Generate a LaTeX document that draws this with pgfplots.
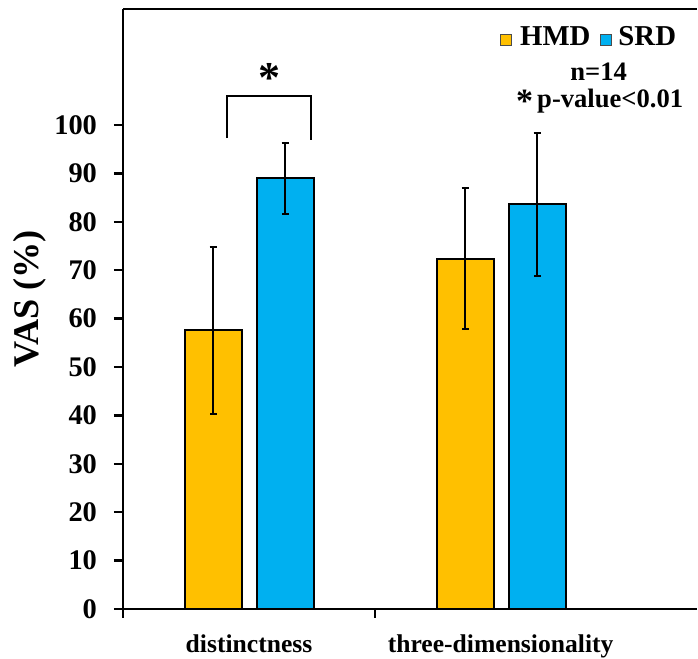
\documentclass[border=0pt]{standalone}
\usepackage{pgfplots}
\pgfplotsset{compat=1.18}
\usepackage{fontspec}
\setmainfont{Liberation Serif}
\definecolor{hmd}{HTML}{FFC000}
\definecolor{srd}{HTML}{00B0F0}
\newcommand{\sq}[1]{{\setlength{\fboxsep}{0pt}\setlength{\fboxrule}{0.5pt}\fcolorbox{black!70}{#1}{\rule{0pt}{5pt}\rule{5pt}{0pt}}}}
\begin{document}
\begin{tikzpicture}
\begin{axis}[
  at={(0,0)}, anchor=south west,
  scale only axis, width=287pt, height=300pt,
  xmin=-0.5, xmax=1.777, ymin=0, ymax=124,
  axis x line*=box, axis y line*=left,
  axis line style={line width=1.2pt, black, -},
  xtick={-0.5,0.5}, xticklabels={},
  ytick={0,10,...,100},
  xtick pos=bottom, ytick pos=left,
  tick align=outside, major tick length=4.5pt,
  tick style={line width=1.2pt, black},
  /pgf/number format/assume math mode=true,
  yticklabel style={font=\bfseries\fontsize{14.2}{14.2}\selectfont, xshift=-5pt},
  ylabel={VAS (\%)},
  ylabel style={font=\bfseries\fontsize{18.1}{18.1}\selectfont, at={(axis description cs:-0.162,0.5175)}, anchor=center},
  ybar, bar width=28.5pt, clip=false,
]
\addplot[fill=hmd, draw=black, line width=1pt, bar shift=-18pt,
  error bars/.cd, y dir=both, y explicit,
  error bar style={line width=1pt, black},
  error mark options={rotate=90, mark size=1.75pt, line width=1pt, black}]
  coordinates {(0,57.6) +- (0,17.2) (1,72.4) +- (0,14.6)};
\addplot[fill=srd, draw=black, line width=1pt, bar shift=18pt,
  error bars/.cd, y dir=both, y explicit,
  error bar style={line width=1pt, black},
  error mark options={rotate=90, mark size=1.75pt, line width=1pt, black}]
  coordinates {(0,89.0) +- (0,7.3) (1,83.6) +- (0,14.7)};
% significance bracket
\draw[line width=1pt] (axis cs:-0.086,97.3) -- (axis cs:-0.086,106) -- (axis cs:0.244,106) -- (axis cs:0.244,96.9);
\node[font=\bfseries\fontsize{22}{22}\selectfont] at (axis cs:0.081,109.8) {*};
% legend and notes
\node[font=\bfseries\fontsize{14.4}{14.4}\selectfont, inner sep=0pt, anchor=base] at (axis cs:1.345,116.5) {\sq{hmd}\hspace{4pt}HMD\hspace{5pt}\sq{srd}\hspace{3pt}SRD};
\node[font=\bfseries\fontsize{13.3}{13.3}\selectfont, inner sep=0pt, anchor=base] at (axis cs:1.387,109.2) {n=14};
\node[font=\bfseries\fontsize{13.3}{13.3}\selectfont, inner sep=0pt, anchor=base] at (axis cs:1.391,103.6) {\raisebox{-2.5pt}{\fontsize{17}{17}\selectfont*}\hspace{2pt}p-value<0.01};
% category labels
\node[font=\bfseries\fontsize{12.8}{12.8}\selectfont, anchor=base] at (axis cs:0,0) [yshift=-22pt] {distinctness};
\node[font=\bfseries\fontsize{12.8}{12.8}\selectfont, anchor=base] at (axis cs:0.998,0) [yshift=-22pt] {three-dimensionality};
\end{axis}
\pgfresetboundingbox
\path (-61.5pt,-25pt) rectangle (287.5pt,304.5pt);
\end{tikzpicture}
\end{document}
